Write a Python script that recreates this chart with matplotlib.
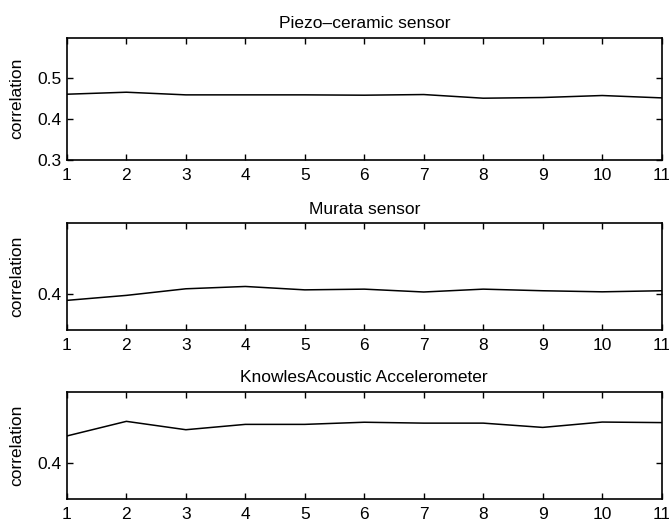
from matplotlib import pyplot as plt
import numpy as np

plt.rcParams['font.family'] = ['Liberation Sans', 'DejaVu Sans']

# x positions
runs = np.arange(1, 12)

# correlation values
piezo = [0.4612, 0.4661, 0.4596, 0.4596, 0.4596, 0.4588, 0.4604, 0.4514, 0.4531, 0.4580, 0.4522]
murata = [0.3967, 0.3995, 0.4032, 0.4045, 0.4026, 0.4030, 0.4014, 0.4030, 0.4021, 0.4015, 0.4021]
knowles = [0.4153, 0.4235, 0.4188, 0.4218, 0.4218, 0.4230, 0.4225, 0.4225, 0.4201, 0.4231, 0.4228]

titles = ['Piezo\u2013ceramic sensor', 'Murata sensor', 'KnowlesAcoustic Accelerometer']
ylims = [(0.3, 0.6), (0.38, 0.44), (0.38, 0.44)]
yticks = [[0.3, 0.4, 0.5], [0.4], [0.4]]
ytick_labels = [['0.3', '0.4', '0.5'], ['0.4'], ['0.4']]

fig = plt.figure(figsize=(6.69, 5.24), dpi=100)
boxes = [[0.100, 0.695, 0.889, 0.233],
         [0.100, 0.370, 0.889, 0.204],
         [0.100, 0.048, 0.889, 0.204]]

for i, series in enumerate([piezo, murata, knowles]):
    ax = fig.add_axes(boxes[i])
    ax.plot(runs, series, color='black', linewidth=1.1)
    ax.set_xlim(1, 11)
    ax.set_ylim(*ylims[i])
    ax.set_xticks(runs)
    ax.set_yticks(yticks[i])
    ax.set_yticklabels(ytick_labels[i])
    ax.tick_params(direction='in', top=True, right=True, length=4.5, width=1.0,
                   labelsize=12.5)
    ax.tick_params(axis='x', pad=6)
    ax.tick_params(axis='y', pad=4)
    for s in ax.spines.values():
        s.set_linewidth(1.2)
    ax.set_title(titles[i], fontsize=12.5, pad=7)
    ax.set_ylabel('correlation', fontsize=12.5)
    ax.yaxis.set_label_coords(-0.071, 0.5)

plt.savefig('out.png', dpi=100)
